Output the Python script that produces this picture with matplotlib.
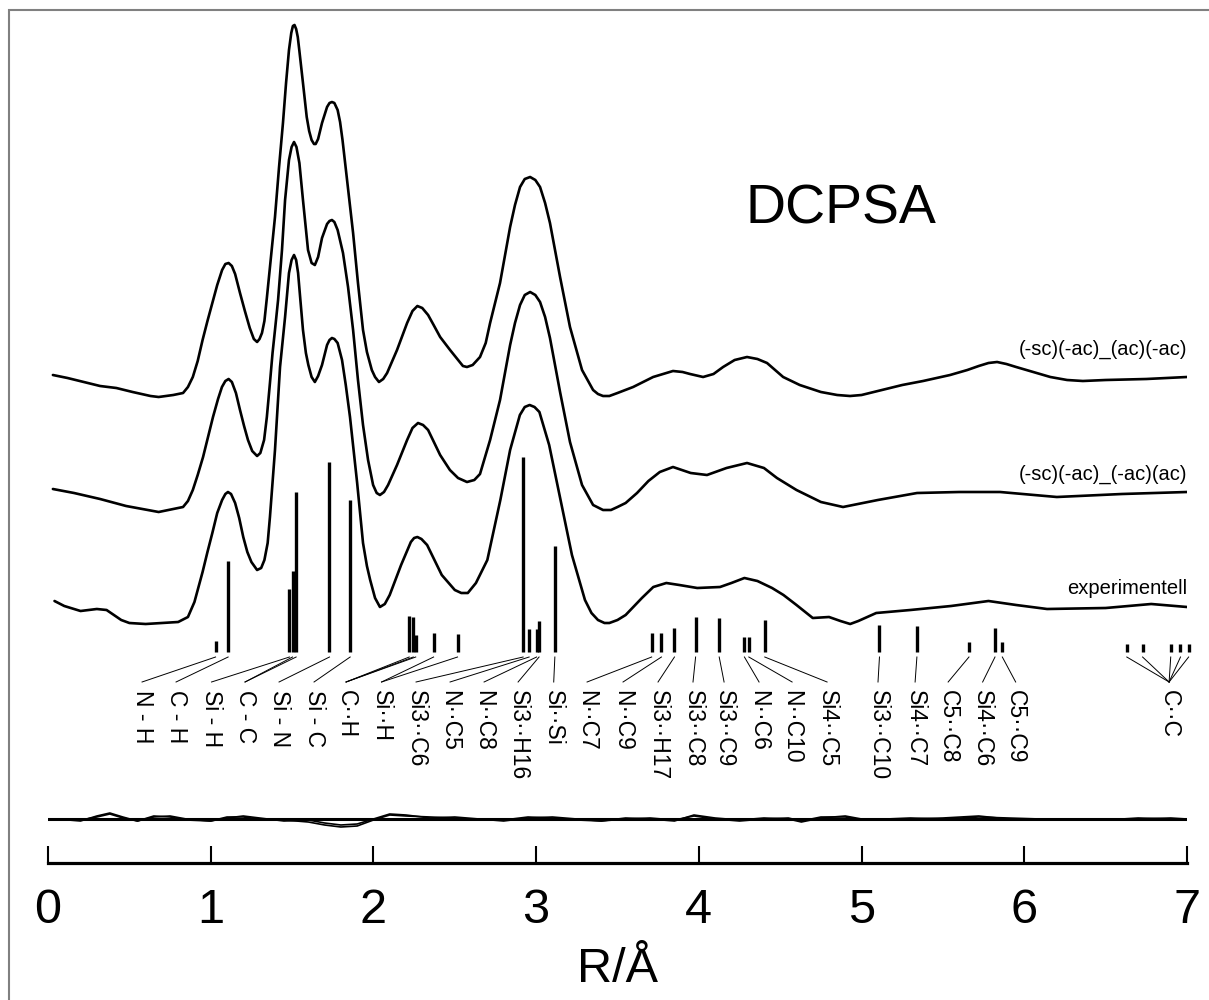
import numpy as np
import matplotlib.pyplot as plt
from matplotlib.patches import Rectangle

plt.rcParams['font.family'] = ['Liberation Sans', 'DejaVu Sans']

# radial distribution curves (R in Angstrom, intensity in arbitrary units)
r_top = [0.03, 0.12, 0.22, 0.32, 0.42, 0.52, 0.63, 0.68, 0.77, 0.83, 0.86, 0.89, 0.92, 0.95, 0.98, 1.01,
         1.04, 1.07, 1.09, 1.11, 1.13, 1.15, 1.18, 1.21, 1.24, 1.265, 1.285, 1.30, 1.315, 1.33, 1.345,
         1.364, 1.395, 1.42, 1.444, 1.463, 1.481, 1.495, 1.505, 1.515, 1.525, 1.535, 1.545, 1.555,
         1.567, 1.59, 1.605, 1.62, 1.635, 1.645, 1.66, 1.684, 1.715, 1.73, 1.745, 1.76, 1.78, 1.795,
         1.81, 1.84, 1.875, 1.905, 1.936, 1.96, 1.99, 2.01, 2.034, 2.06, 2.084, 2.145, 2.207, 2.24,
         2.27, 2.30, 2.336, 2.37, 2.41, 2.471, 2.52, 2.55, 2.575, 2.61, 2.655, 2.69, 2.717, 2.778,
         2.84, 2.87, 2.901, 2.93, 2.963, 2.995, 3.024, 3.055, 3.085, 3.147, 3.208, 3.282, 3.35, 3.38,
         3.411, 3.45, 3.50, 3.596, 3.719, 3.78, 3.841, 3.9, 3.946, 4.026, 4.09, 4.149, 4.22, 4.296,
         4.36, 4.419, 4.518, 4.62, 4.75, 4.85, 4.929, 5.0, 5.1, 5.25, 5.378, 5.544, 5.65, 5.72, 5.78,
         5.833, 5.89, 5.95, 6.054, 6.16, 6.263, 6.36, 6.5, 6.75, 7.0]
i_top = [488, 485, 481, 477, 475, 471, 467, 466, 468, 470, 476, 486, 502, 523, 542, 560,
         578, 593, 599, 600, 597, 589, 570, 552, 535, 524, 521, 524, 530, 542, 565,
         596, 646, 696, 740, 780, 813, 830, 837, 838, 834, 826, 812, 797,
         780, 746, 732, 723, 719, 719, 724, 740, 756, 760, 761, 760, 753, 741,
         723, 680, 630, 580, 533, 511, 493, 486, 481, 484, 490, 513, 540, 552,
         557, 555, 548, 538, 526, 513, 503, 497, 496, 498, 506, 520, 540, 580,
         636, 658, 676, 684, 686, 683, 676, 660, 640, 586, 536, 493, 473, 469,
         467, 467, 470, 476, 486, 489, 492, 491, 489, 486, 489, 496, 503, 506,
         504, 500, 486, 478, 471, 468, 467, 468, 472, 478, 482, 488, 493, 497, 500,
         501, 499, 496, 491, 486, 483, 482, 483, 484, 486]

r_mid = [0.03, 0.16, 0.32, 0.48, 0.68, 0.83, 0.86, 0.89, 0.92, 0.953, 0.985, 1.014, 1.045, 1.069, 1.09,
         1.11, 1.13, 1.155, 1.18, 1.205, 1.229, 1.255, 1.285, 1.305, 1.328, 1.345, 1.364, 1.38, 1.395,
         1.414, 1.438, 1.457, 1.481, 1.497, 1.512, 1.527, 1.545, 1.567, 1.598, 1.62, 1.64, 1.66, 1.684,
         1.715, 1.73, 1.745, 1.76, 1.78, 1.813, 1.844, 1.875, 1.905, 1.936, 1.967, 1.998, 2.02, 2.04,
         2.065, 2.09, 2.145, 2.207, 2.24, 2.274, 2.305, 2.336, 2.41, 2.47, 2.52, 2.575, 2.62, 2.655,
         2.717, 2.778, 2.84, 2.87, 2.901, 2.93, 2.963, 2.995, 3.024, 3.055, 3.085, 3.147, 3.208, 3.282,
         3.35, 3.411, 3.46, 3.50, 3.55, 3.62, 3.69, 3.76, 3.841, 3.95, 4.05, 4.17, 4.296, 4.40, 4.48,
         4.6, 4.75, 4.886, 5.1, 5.341, 5.6, 5.851, 6.2, 6.6, 7.0]
i_mid = [374, 370, 364, 357, 351, 356, 362, 373, 388, 406, 427, 446, 464, 476, 482,
         484, 481, 470, 453, 437, 423, 412, 407, 410, 423, 446, 480, 510, 533,
         563, 613, 663, 703, 716, 721, 716, 700, 663, 613, 600, 598, 606, 625,
         639, 642, 643, 641, 633, 610, 576, 533, 483, 438, 403, 378, 370, 368,
         371, 378, 398, 423, 435, 440, 438, 433, 408, 393, 385, 381, 383, 389,
         423, 463, 518, 540, 558, 568, 571, 568, 561, 546, 525, 471, 421, 378,
         358, 353, 353, 356, 360, 370, 382, 391, 396, 390, 388, 395, 400, 395, 385,
         373, 361, 356, 363, 370, 371, 371, 366, 369, 371]

r_exp = [0.04, 0.1, 0.2, 0.3, 0.36, 0.45, 0.5, 0.6, 0.7, 0.8, 0.86, 0.9, 0.95, 0.98, 1.01, 1.04,
         1.07, 1.09, 1.106, 1.125, 1.15, 1.175, 1.2, 1.225, 1.25, 1.285, 1.31, 1.33, 1.35, 1.364,
         1.395, 1.426, 1.457, 1.481, 1.497, 1.512, 1.525, 1.537, 1.55, 1.567, 1.585, 1.6, 1.62, 1.64,
         1.66, 1.684, 1.715, 1.73, 1.745, 1.76, 1.78, 1.807, 1.83, 1.856, 1.9, 1.936, 1.96, 1.98,
         2.01, 2.04, 2.07, 2.1, 2.17, 2.23, 2.25, 2.27, 2.295, 2.33, 2.42, 2.5, 2.54, 2.58, 2.63,
         2.7, 2.78, 2.84, 2.9, 2.93, 2.96, 2.99, 3.02, 3.08, 3.15, 3.22, 3.3, 3.34, 3.38, 3.42,
         3.45, 3.5, 3.55, 3.65, 3.72, 3.8, 3.88, 3.99, 4.13, 4.2, 4.28, 4.36, 4.45, 4.52, 4.6,
         4.7, 4.8, 4.87, 4.93, 4.98, 5.09, 5.3, 5.55, 5.78, 5.95, 6.14, 6.5, 6.78, 7.0]
i_exp = [262, 257, 252, 254, 253, 243, 240, 239, 240, 241, 246, 261, 291, 311, 330, 350,
         363, 369, 371, 369, 360, 345, 326, 311, 301, 293, 295, 303, 320, 346,
         413, 496, 546, 590, 603, 608, 603, 590, 565, 533, 510, 498, 486, 481,
         487, 498, 518, 523, 525, 524, 520, 503, 478, 446, 380, 320, 297, 283,
         265, 256, 259, 268, 298, 321, 325, 326, 324, 318, 288, 273, 270, 270, 280,
         303, 363, 413, 448, 456, 458, 456, 451, 418, 363, 308, 263, 250, 243, 240,
         240, 243, 248, 265, 276, 280, 278, 275, 276, 280, 285, 282, 275, 268, 258,
         245, 246, 242, 239, 242, 250, 253, 257, 262, 258, 254, 255, 259, 256]

# difference curves (model - experiment) around the zero line
diff_level = 44
r_diff = [0.05, 0.2, 0.3, 0.38, 0.46, 0.55, 0.65, 0.75, 0.85, 1.0, 1.1, 1.2, 1.3, 1.45, 1.6, 1.7,
          1.8, 1.9, 2.0, 2.1, 2.2, 2.35, 2.5, 2.65, 2.8, 2.95, 3.1, 3.25, 3.4, 3.55, 3.7, 3.85,
          3.97, 4.1, 4.25, 4.4, 4.55, 4.63, 4.75, 4.9, 5.0, 5.15, 5.3, 5.5, 5.72, 5.9, 6.1, 6.3,
          6.5, 6.7, 6.9, 7.0]
d_top = [0, -2, 3, 6, 2, -2, 2, 3, 0, -2, 1, 3, 1, -2, -1, -4,
         -6, -5, 0, 5, 4, 1, 2, 0, -2, 1, 2, 0, -2, 1, 0, -2,
         4, 1, -1, 1, 0, -3, 1, 3, 0, -1, 0, 1, 3, 0, -1, 0,
         -1, 1, 0, 0]
d_mid = [0, -1, 2, 5, 1, -2, 3, 2, -1, -2, 2, 2, 0, -1, -3, -6,
         -8, -7, -1, 4, 3, 2, 1, -1, -1, 2, 1, -1, -2, 0, 1, -1,
         3, 0, -2, 0, 1, -2, 2, 2, -1, 0, 1, 0, 2, 1, 0, -1,
         0, 0, 1, 0]

# interatomic distances and their (scaled) multiplicities
bar_base = 211
bar_r = [1.03, 1.107, 1.484, 1.503, 1.525, 1.73, 1.857, 2.22, 2.245, 2.26, 2.37, 2.517, 2.92, 2.957,
         3.003, 3.018, 3.115, 3.71, 3.77, 3.85, 3.98, 4.125, 4.28, 4.307, 4.405, 5.11, 5.34, 5.66,
         5.82, 5.865, 6.63, 6.727, 6.90, 6.96, 7.01]
bar_amp = [11, 91, 63, 81, 160, 190, 152, 36, 35, 17, 19, 18, 195, 23,
           23, 31, 106, 19, 19, 24, 35, 34, 15, 15, 32, 27, 26, 10,
           24, 10, 8, 8, 8, 8, 8]
bar_label = [0, 1, 2, 3, 3, 4, 5, 6, 6, 6, 7, 7, 8, 9,
             10, 11, 12, 13, 14, 15, 16, 17, 18, 19, 20, 21, 22, 23,
             24, 25, 26, 26, 26, 26, 26]

pair_names = ['N - H', 'C - H', 'Si - H', 'C - C', 'Si - N', 'Si - C', 'C\u00b7\u00b7H', 'Si\u00b7\u00b7H',
              'Si3\u00b7\u00b7C6', 'N\u00b7\u00b7C5', 'N\u00b7\u00b7C8', 'Si3\u00b7\u00b7H16', 'Si\u00b7\u00b7Si',
              'N\u00b7\u00b7C7', 'N\u00b7\u00b7C9', 'Si3\u00b7\u00b7H17', 'Si3\u00b7\u00b7C8', 'Si3\u00b7\u00b7C9',
              'N\u00b7\u00b7C6', 'N\u00b7\u00b7C10', 'Si4\u00b7\u00b7C5', 'Si3\u00b7\u00b7C10', 'Si4\u00b7\u00b7C7',
              'C5\u00b7\u00b7C8', 'Si4\u00b7\u00b7C6', 'C5\u00b7\u00b7C9', 'C\u00b7\u00b7C']
pair_pos = [0.578, 0.787, 1.005, 1.211, 1.42, 1.635, 1.832, 2.05, 2.262, 2.471, 2.68, 2.889, 3.108,
            3.313, 3.534, 3.749, 3.964, 4.155, 4.37, 4.573, 4.788, 5.101, 5.329, 5.532, 5.744, 5.947, 6.89]

curve_names = ['(-sc)(-ac)_(ac)(-ac)', '(-sc)(-ac)_(-ac)(ac)', 'experimentell']
name_y = [514, 389, 275]

fig = plt.figure(figsize=(12.09, 10), dpi=100)
ax = fig.add_axes([48 / 1209, 0.137, 1139 / 1209, 0.863])
ax.set_xlim(0, 7)
ax.set_ylim(0, 863)

lw = 1.9
for r, i in [(r_top, i_top), (r_mid, i_mid), (r_exp, i_exp)]:
    ax.plot(r, i, color='black', lw=lw, solid_joinstyle='round', solid_capstyle='round')

for name, y in zip(curve_names, name_y):
    ax.text(7.0, y, name, ha='right', va='center', fontsize=14.5)

ax.text(4.874, 653, 'DCPSA', ha='center', va='center', fontsize=40)

# distance bars
tops = [bar_base + a for a in bar_amp]
ax.vlines(bar_r, bar_base, tops, color='black', lw=2.4, clip_on=False)

# connector lines and labels
for r, k in zip(bar_r, bar_label):
    ax.plot([r, pair_pos[k]], [206, 181], color='black', lw=0.7, clip_on=False)
for name, x in zip(pair_names, pair_pos):
    ax.text(x, 173, name, rotation=270, ha='center', va='top', fontsize=16.5)

# difference curves
ax.axhline(diff_level, color='black', lw=2.2)
ax.plot(r_diff, [diff_level + d for d in d_top], color='black', lw=1.2, solid_joinstyle='round')
ax.plot(r_diff, [diff_level + d for d in d_mid], color='black', lw=1.2, solid_joinstyle='round')

for s in ['top', 'left', 'right']:
    ax.spines[s].set_visible(False)
ax.spines['bottom'].set_linewidth(2.3)
ax.set_yticks([])
ax.set_xticks(range(8))
ax.tick_params(axis='x', direction='in', length=12, width=1.5, pad=18, labelsize=35)
ax.set_xlabel('R/\u00c5', fontsize=35, labelpad=10)

fig.patches.append(Rectangle((8.5 / 1209, -0.05), 1.2, 1.0405, transform=fig.transFigure,
                             fill=False, edgecolor='#808080', lw=1.5))

fig.savefig('out.png', dpi=100)
